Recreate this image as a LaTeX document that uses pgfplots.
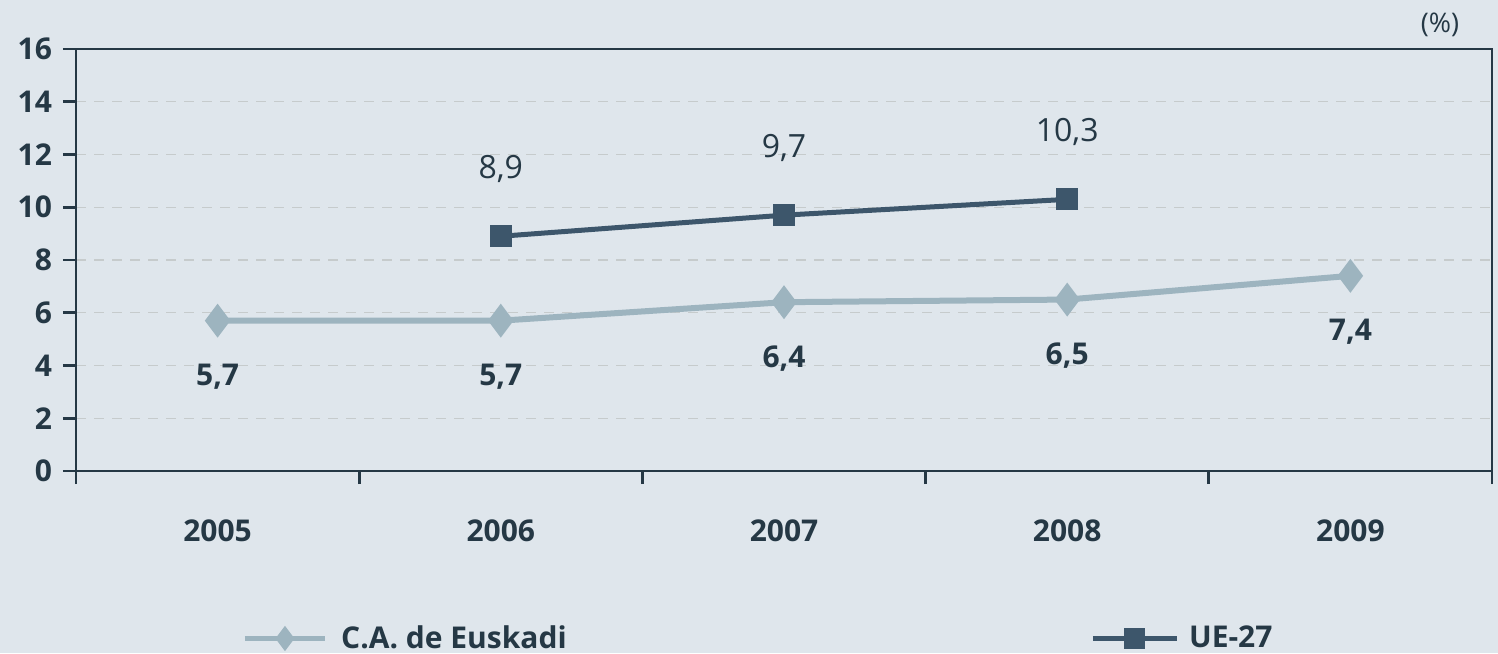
\documentclass[border=0pt]{standalone}
\usepackage{fontspec}
\setmainfont{Open Sans}
\usepackage{pgfplots}
\pgfplotsset{compat=1.18}
\definecolor{bg}{HTML}{DFE6EC}
\definecolor{axiscol}{HTML}{253845}
\definecolor{txt}{HTML}{253845}
\definecolor{ue}{HTML}{3D566B}
\definecolor{eus}{HTML}{9DB4BF}
\definecolor{gridc}{HTML}{C6CBCC}

\begin{document}
\begin{tikzpicture}
\fill[bg] (0pt,0pt) rectangle (749pt,326.5pt);
\useasboundingbox (0pt,0pt) rectangle (749pt,326.5pt);
\node[anchor=center, text=txt, font=\fontsize{13.5}{15}\selectfont] at (720pt,314pt) {(\%)};
\begin{axis}[
  at={(38pt,91pt)}, anchor=south west,
  scale only axis, width=708pt, height=211pt,
  xmin=-0.5, xmax=4.5, ymin=0, ymax=16,
  ytick={0,2,...,16},
  xtick={-0.5,0.5,...,4.5}, xticklabels={},
  extra x ticks={0,1,2,3,4},
  extra x tick labels={2005,2006,2007,2008,2009},
  extra x tick style={major tick length=0pt, tick label style={yshift=-21pt}},
  xtick pos=bottom, ytick pos=left,
  tick align=outside, major tick length=6.5pt,
  axis line style={axiscol, line width=1.4pt},
  every tick/.style={axiscol, line width=1.4pt},
  ymajorgrids, grid style={gridc, dashed, line width=0.6pt, dash pattern=on 5pt off 4pt},
  /pgf/number format/assume math mode=true,
  tick label style={font=\bfseries\fontsize{15}{17}\selectfont, text=txt},
  yticklabel style={xshift=-2pt},
  legend columns=2,
  legend style={draw=none, fill=none, at={(axis description cs:0.1175,-0.397)}, anchor=west,
    inner sep=0pt, font=\bfseries\fontsize{15}{17}\selectfont, text=txt,
    nodes={inner sep=0pt},
    /tikz/column 1/.style={column sep=7pt},
    /tikz/column 2/.style={column sep=262pt},
    /tikz/column 3/.style={column sep=5pt}},
]
\addplot[eus, line width=3pt, mark=diamond*, mark size=6pt,
  legend image code/.code={\draw[line width=2.2pt, mark size=4.5pt, mark repeat=2, mark phase=2] plot coordinates {(0pt,0pt)(20pt,0pt)(40pt,0pt)};},
  nodes near coords,
  every node near coord/.style={anchor=center, yshift=-28pt, text=txt, font=\bfseries\fontsize{15}{17}\selectfont,
    /pgf/number format/.cd, fixed, fixed zerofill, precision=1, use comma}]
  coordinates {(0,5.7) (1,5.7) (2,6.4) (3,6.5) (4,7.4)};
\addlegendentry{C.A. de Euskadi}
\addplot[ue, line width=2.5pt, mark=square*, mark size=4.2pt,
  legend image code/.code={\draw[line width=2.2pt, mark size=4.2pt, mark repeat=2, mark phase=2] plot coordinates {(0pt,0pt)(21pt,0pt)(42pt,0pt)};},
  nodes near coords,
  every node near coord/.style={anchor=center, yshift=33.5pt, text=txt, font=\fontsize{16}{18}\selectfont,
    /pgf/number format/.cd, fixed, fixed zerofill, precision=1, use comma}]
  coordinates {(1,8.9) (2,9.7) (3,10.3)};
\addlegendentry{UE-27}
\end{axis}
\end{tikzpicture}
\end{document}
